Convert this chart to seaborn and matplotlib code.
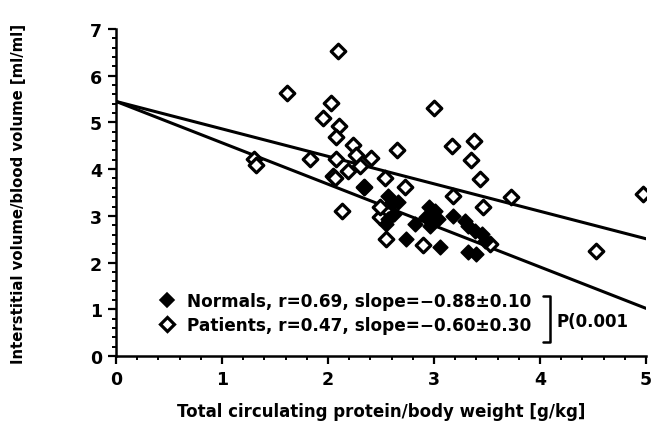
import numpy as np
import pandas as pd
import matplotlib
matplotlib.use("Agg")
import matplotlib.pyplot as plt
from matplotlib.lines import Line2D
from matplotlib.ticker import MultipleLocator
import seaborn as sns

# ---- data ----
normals_x = [2.57, 2.60, 2.66, 2.57, 2.55, 2.62, 2.74, 2.82, 2.92, 2.96, 2.95, 3.01,
             2.98, 3.04, 3.06, 3.18, 3.29, 3.32, 3.39, 3.45, 3.48, 3.32, 3.40, 2.34]
normals_y = [3.43, 3.29, 3.29, 2.93, 2.83, 3.05, 2.50, 2.83, 2.97, 2.79, 3.18, 3.11,
             2.93, 2.93, 2.33, 3.00, 2.90, 2.79, 2.68, 2.61, 2.47, 2.22, 2.18, 3.61]

patients_x = [2.09, 1.61, 2.03, 1.95, 2.10, 2.08, 2.24, 2.26, 2.41, 1.83, 1.30, 1.32,
              2.08, 2.05, 2.19, 2.30, 3.00, 2.65, 3.17, 3.38, 3.35, 3.43, 3.18, 3.73,
              2.54, 2.73, 3.46, 4.97, 4.53, 2.55, 2.90, 3.53, 2.49, 2.49, 2.07, 2.13,
              2.34]
patients_y = [6.52, 5.63, 5.41, 5.10, 4.92, 4.68, 4.52, 4.30, 4.23, 4.22, 4.22, 4.09,
              4.22, 3.86, 3.97, 4.07, 5.30, 4.40, 4.49, 4.60, 4.20, 3.79, 3.43, 3.40,
              3.80, 3.61, 3.18, 3.47, 2.25, 2.50, 2.38, 2.40, 2.97, 3.19, 3.80, 3.10,
              3.61]

# regression lines: intercept, slope
line_intercepts = [5.45, 5.45]
line_slopes = [-0.886, -0.588]
line_names = ["Normals", "Patients"]
line_xrange = [0.0, 5.0]

legend_labels = ["Normals, r=0.69, slope=\u22120.88\u00b10.10",
                 "Patients, r=0.47, slope=\u22120.60\u00b10.30"]
p_text = "P(0.001"

x_ticks = [0, 1, 2, 3, 4, 5]
y_ticks = [0, 1, 2, 3, 4, 5, 6, 7]
x_label = "Total circulating protein/body weight [g/kg]"
y_label = "Interstitial volume/blood volume [ml/ml]"

# ---- frames ----
df_n = pd.DataFrame({"x": normals_x, "y": normals_y})
df_p = pd.DataFrame({"x": patients_x, "y": patients_y})
rows = []
for name, b, m in zip(line_names, line_intercepts, line_slopes):
    for xv in line_xrange:
        rows.append({"group": name, "x": xv, "y": b + m * xv})
df_l = pd.DataFrame(rows)

sns.set_theme(style="ticks")
plt.rcParams["font.family"] = ["DejaVu Sans"]
plt.rcParams["font.weight"] = "bold"
for k in ["text.color", "axes.labelcolor", "xtick.color", "ytick.color",
          "axes.edgecolor"]:
    plt.rcParams[k] = "black"

fig = plt.figure(figsize=(6.51, 4.39), dpi=100)
ax = fig.add_axes([116 / 651, 1 - 357 / 439, 530 / 651, 327 / 439])

sns.lineplot(data=df_l, x="x", y="y", units="group", estimator=None,
             color="black", lw=2.2, ax=ax, legend=False, zorder=2)
sns.scatterplot(data=df_p, x="x", y="y", marker="D", s=55, facecolor="white",
                edgecolor="black", linewidth=2.3, ax=ax, zorder=3)
sns.scatterplot(data=df_n, x="x", y="y", marker="D", s=55, color="black",
                edgecolor="black", linewidth=1.2, ax=ax, zorder=4)

ax.set_xlim(0, 5)
ax.set_ylim(0, 7)
ax.set_xticks(x_ticks)
ax.set_yticks(y_ticks)
ax.xaxis.set_minor_locator(MultipleLocator(0.2))
ax.yaxis.set_minor_locator(MultipleLocator(0.2))
ax.tick_params(which="major", direction="out", length=6, width=1.6,
               labelsize=12.5, pad=4, colors="black")
ax.tick_params(which="minor", direction="out", length=3, width=1.4, color="black")
for lab in ax.get_xticklabels() + ax.get_yticklabels():
    lab.set_fontweight("bold")
for s in ["top", "right"]:
    ax.spines[s].set_visible(False)
for s in ["left", "bottom"]:
    ax.spines[s].set_linewidth(1.8)
    ax.spines[s].set_color("black")

ax.set_xlabel(x_label, fontsize=12, fontweight="bold", labelpad=10)
ax.set_ylabel(y_label, fontsize=10.7, fontweight="bold", labelpad=46)

handles = [Line2D([], [], ls="none", marker="D", markersize=7.4, mfc="black",
                  mec="black", mew=1.2),
           Line2D([], [], ls="none", marker="D", markersize=7.4, mfc="white",
                  mec="black", mew=2.3)]
leg = ax.legend(handles, legend_labels, loc="center left",
                bbox_to_anchor=(0.061, 0.1315), frameon=False, borderpad=0,
                handlelength=1.2, handletextpad=0.6, labelspacing=0.4,
                prop={"size": 12.2, "weight": "bold"})

# bracket and p-value
ax.plot([0.806, 0.819, 0.819, 0.806], [0.183, 0.183, 0.043, 0.043],
        transform=ax.transAxes, color="black", lw=1.8, clip_on=False)
ax.text(0.832, 0.107, p_text, transform=ax.transAxes, fontsize=12,
        fontweight="bold", va="center", ha="left")

fig.savefig("out.png", dpi=100)
